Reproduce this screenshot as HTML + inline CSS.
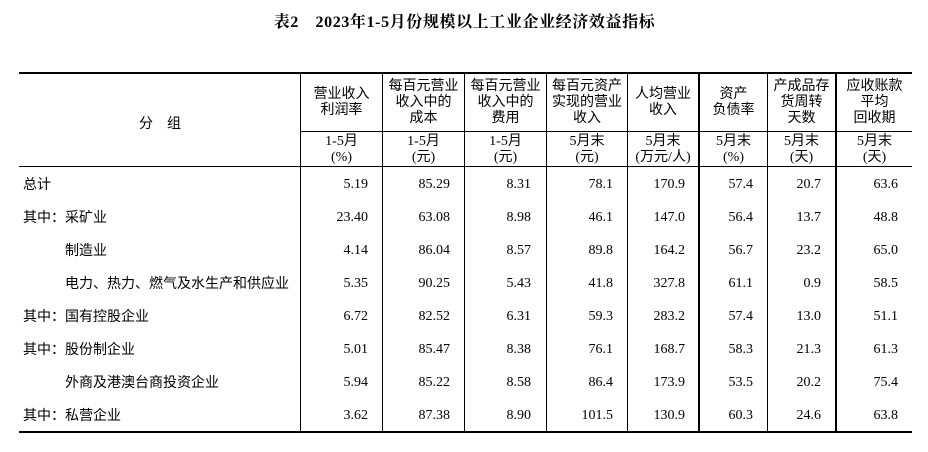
<!DOCTYPE html>
<html>
<head>
<meta charset="utf-8">
<style>
html,body{margin:0;padding:0;background:#fff;}
body{width:928px;height:452px;position:relative;overflow:hidden;color:#000;}
.title{position:absolute;left:0;width:929px;top:12px;text-align:center;font-family:"Liberation Serif","Noto Serif CJK SC",serif;font-weight:bold;font-size:16px;letter-spacing:0.6px;line-height:22px;}
.h{position:absolute;background:#000;}
.hd{position:absolute;text-align:center;font-family:"Liberation Serif","Noto Sans CJK SC",sans-serif;font-size:14px;line-height:16px;}
.lbl{position:absolute;left:23px;height:33px;line-height:33px;font-family:"Noto Sans CJK SC",sans-serif;font-size:14px;white-space:nowrap;}
.lbl .c{font-family:"WenQuanYi Zen Hei","Noto Sans CJK SC",sans-serif;}
.num{position:absolute;height:33px;line-height:33px;text-align:right;font-family:"Liberation Serif",serif;font-size:14px;}
</style>
</head>
<body>
<div class="title">表2　2023年1-5月份规模以上工业企业经济效益指标</div>

<div class="h" style="left:19px;top:72px;width:893px;height:2px;"></div>
<div class="h" style="left:301px;top:131px;width:611px;height:1px;"></div>
<div class="h" style="left:19px;top:166px;width:893px;height:1px;"></div>
<div class="h" style="left:19px;top:431px;width:893px;height:2px;"></div>

<div class="h" style="left:300px;top:73px;width:1px;height:359px;"></div>
<div class="h" style="left:382px;top:73px;width:1px;height:359px;"></div>
<div class="h" style="left:464px;top:73px;width:1px;height:359px;"></div>
<div class="h" style="left:546px;top:73px;width:1px;height:359px;"></div>
<div class="h" style="left:627px;top:73px;width:1px;height:359px;"></div>
<div class="h" style="left:698px;top:73px;width:2px;height:359px;"></div>
<div class="h" style="left:767px;top:73px;width:1px;height:359px;"></div>
<div class="h" style="left:835px;top:73px;width:2px;height:359px;"></div>

<div class="hd" style="left:19px;width:282px;top:115px;font-family:'Noto Sans CJK SC',sans-serif;">分　组</div>

<div class="hd" style="left:301px;width:81px;top:87px;">营业收入<br>利润率</div>
<div class="hd" style="left:383px;width:81px;top:79px;">每百元营业<br>收入中的<br>成本</div>
<div class="hd" style="left:465px;width:81px;top:79px;">每百元营业<br>收入中的<br>费用</div>
<div class="hd" style="left:547px;width:80px;top:79px;">每百元资产<br>实现的营业<br>收入</div>
<div class="hd" style="left:628px;width:70px;top:87px;">人均营业<br>收入</div>
<div class="hd" style="left:700px;width:67px;top:87px;">资产<br>负债率</div>
<div class="hd" style="left:768px;width:67px;top:79px;">产成品存<br>货周转<br>天数</div>
<div class="hd" style="left:837px;width:75px;top:79px;">应收账款<br>平均<br>回收期</div>

<div class="hd" style="left:301px;width:81px;top:134px;">1-5月<br>(%)</div>
<div class="hd" style="left:383px;width:81px;top:134px;">1-5月<br>(元)</div>
<div class="hd" style="left:465px;width:81px;top:134px;">1-5月<br>(元)</div>
<div class="hd" style="left:547px;width:80px;top:134px;">5月末<br>(元)</div>
<div class="hd" style="left:628px;width:70px;top:134px;">5月末<br>(万元/人)</div>
<div class="hd" style="left:700px;width:67px;top:134px;">5月末<br>(%)</div>
<div class="hd" style="left:768px;width:67px;top:134px;">5月末<br>(天)</div>
<div class="hd" style="left:837px;width:75px;top:134px;">5月末<br>(天)</div>

<div class="lbl" style="top:168px;">总计</div>
<div class="lbl" style="top:201px;"><span class="c">其中：</span>采矿业</div>
<div class="lbl" style="top:234px;">　　　制造业</div>
<div class="lbl" style="top:267px;">　　　电力、热力、燃气及水生产和供应业</div>
<div class="lbl" style="top:300px;"><span class="c">其中：</span>国有控股企业</div>
<div class="lbl" style="top:333px;"><span class="c">其中：</span>股份制企业</div>
<div class="lbl" style="top:366px;">　　　外商及港澳台商投资企业</div>
<div class="lbl" style="top:399px;"><span class="c">其中：</span>私营企业</div>

<div class="num" style="top:168px;left:300px;width:68px;">5.19</div>
<div class="num" style="top:168px;left:382px;width:68px;">85.29</div>
<div class="num" style="top:168px;left:464px;width:67px;">8.31</div>
<div class="num" style="top:168px;left:546px;width:67px;">78.1</div>
<div class="num" style="top:168px;left:627px;width:58px;">170.9</div>
<div class="num" style="top:168px;left:699px;width:54px;">57.4</div>
<div class="num" style="top:168px;left:767px;width:54px;">20.7</div>
<div class="num" style="top:168px;left:836px;width:62px;">63.6</div>

<div class="num" style="top:201px;left:300px;width:68px;">23.40</div>
<div class="num" style="top:201px;left:382px;width:68px;">63.08</div>
<div class="num" style="top:201px;left:464px;width:67px;">8.98</div>
<div class="num" style="top:201px;left:546px;width:67px;">46.1</div>
<div class="num" style="top:201px;left:627px;width:58px;">147.0</div>
<div class="num" style="top:201px;left:699px;width:54px;">56.4</div>
<div class="num" style="top:201px;left:767px;width:54px;">13.7</div>
<div class="num" style="top:201px;left:836px;width:62px;">48.8</div>

<div class="num" style="top:234px;left:300px;width:68px;">4.14</div>
<div class="num" style="top:234px;left:382px;width:68px;">86.04</div>
<div class="num" style="top:234px;left:464px;width:67px;">8.57</div>
<div class="num" style="top:234px;left:546px;width:67px;">89.8</div>
<div class="num" style="top:234px;left:627px;width:58px;">164.2</div>
<div class="num" style="top:234px;left:699px;width:54px;">56.7</div>
<div class="num" style="top:234px;left:767px;width:54px;">23.2</div>
<div class="num" style="top:234px;left:836px;width:62px;">65.0</div>

<div class="num" style="top:267px;left:300px;width:68px;">5.35</div>
<div class="num" style="top:267px;left:382px;width:68px;">90.25</div>
<div class="num" style="top:267px;left:464px;width:67px;">5.43</div>
<div class="num" style="top:267px;left:546px;width:67px;">41.8</div>
<div class="num" style="top:267px;left:627px;width:58px;">327.8</div>
<div class="num" style="top:267px;left:699px;width:54px;">61.1</div>
<div class="num" style="top:267px;left:767px;width:54px;">0.9</div>
<div class="num" style="top:267px;left:836px;width:62px;">58.5</div>

<div class="num" style="top:300px;left:300px;width:68px;">6.72</div>
<div class="num" style="top:300px;left:382px;width:68px;">82.52</div>
<div class="num" style="top:300px;left:464px;width:67px;">6.31</div>
<div class="num" style="top:300px;left:546px;width:67px;">59.3</div>
<div class="num" style="top:300px;left:627px;width:58px;">283.2</div>
<div class="num" style="top:300px;left:699px;width:54px;">57.4</div>
<div class="num" style="top:300px;left:767px;width:54px;">13.0</div>
<div class="num" style="top:300px;left:836px;width:62px;">51.1</div>

<div class="num" style="top:333px;left:300px;width:68px;">5.01</div>
<div class="num" style="top:333px;left:382px;width:68px;">85.47</div>
<div class="num" style="top:333px;left:464px;width:67px;">8.38</div>
<div class="num" style="top:333px;left:546px;width:67px;">76.1</div>
<div class="num" style="top:333px;left:627px;width:58px;">168.7</div>
<div class="num" style="top:333px;left:699px;width:54px;">58.3</div>
<div class="num" style="top:333px;left:767px;width:54px;">21.3</div>
<div class="num" style="top:333px;left:836px;width:62px;">61.3</div>

<div class="num" style="top:366px;left:300px;width:68px;">5.94</div>
<div class="num" style="top:366px;left:382px;width:68px;">85.22</div>
<div class="num" style="top:366px;left:464px;width:67px;">8.58</div>
<div class="num" style="top:366px;left:546px;width:67px;">86.4</div>
<div class="num" style="top:366px;left:627px;width:58px;">173.9</div>
<div class="num" style="top:366px;left:699px;width:54px;">53.5</div>
<div class="num" style="top:366px;left:767px;width:54px;">20.2</div>
<div class="num" style="top:366px;left:836px;width:62px;">75.4</div>

<div class="num" style="top:399px;left:300px;width:68px;">3.62</div>
<div class="num" style="top:399px;left:382px;width:68px;">87.38</div>
<div class="num" style="top:399px;left:464px;width:67px;">8.90</div>
<div class="num" style="top:399px;left:546px;width:67px;">101.5</div>
<div class="num" style="top:399px;left:627px;width:58px;">130.9</div>
<div class="num" style="top:399px;left:699px;width:54px;">60.3</div>
<div class="num" style="top:399px;left:767px;width:54px;">24.6</div>
<div class="num" style="top:399px;left:836px;width:62px;">63.8</div>
</body>
</html>
